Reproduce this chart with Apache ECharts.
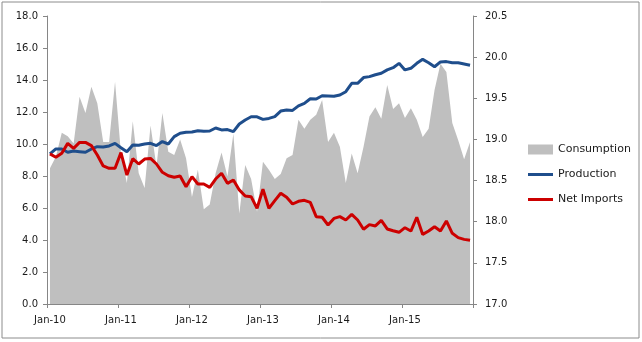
<!DOCTYPE html>
<html>
<head>
<meta charset="utf-8">
<script src="https://cdn.jsdelivr.net/npm/echarts@6/dist/echarts.min.js"></script>
<style>
html,body{margin:0;padding:0;background:#fff;}
#c{width:642px;height:342px;}
</style>
</head>
<body>
<div id="c"></div>
<script>
// Monthly categories Jan-2010 .. Dec-2015
const monthNames = ['Jan','Feb','Mar','Apr','May','Jun','Jul','Aug','Sep','Oct','Nov','Dec'];
const years = ['10','11','12','13','14','15'];
const categories = [];
years.forEach(y => monthNames.forEach(m => categories.push(m + '-' + y)));

// Consumption (right axis)
const consumption = [
  18.65,18.79,19.08,19.04,18.95,19.52,19.32,19.64,19.44,18.97,18.97,19.70,
  18.83,18.47,19.22,18.59,18.41,19.17,18.67,19.32,18.85,18.81,19.00,18.77,
  18.30,18.63,18.15,18.21,18.59,18.84,18.55,19.07,18.10,18.69,18.52,18.12,
  18.73,18.63,18.52,18.58,18.77,18.81,19.24,19.13,19.24,19.30,19.48,18.97,
  19.08,18.91,18.47,18.83,18.59,18.91,19.28,19.39,19.25,19.66,19.37,19.44,
  19.26,19.38,19.24,19.03,19.13,19.60,19.92,19.82,19.20,18.99,18.76,18.97
];
// Production (left axis)
const production = [
  9.38,9.69,9.69,9.48,9.56,9.52,9.48,9.69,9.83,9.81,9.88,10.04,
  9.77,9.52,9.94,9.92,10.00,10.04,9.90,10.15,10.00,10.46,10.67,10.73,
  10.75,10.83,10.79,10.81,11.00,10.88,10.90,10.77,11.25,11.50,11.70,11.70,
  11.54,11.60,11.71,12.06,12.13,12.10,12.38,12.54,12.83,12.81,13.02,13.00,
  12.98,13.06,13.27,13.79,13.79,14.15,14.21,14.33,14.42,14.63,14.77,15.04,
  14.63,14.73,15.04,15.29,15.08,14.83,15.13,15.15,15.08,15.08,15.00,14.92
];
// Net Imports (left axis)
const netImports = [
  9.38,9.17,9.42,10.04,9.73,10.10,10.10,9.90,9.31,8.63,8.48,8.48,
  9.46,8.06,9.08,8.75,9.06,9.10,8.75,8.23,8.02,7.92,8.00,7.33,
  7.96,7.50,7.50,7.29,7.81,8.17,7.54,7.75,7.13,6.75,6.71,5.98,
  7.17,5.98,6.46,6.92,6.67,6.25,6.42,6.48,6.35,5.46,5.42,4.94,
  5.35,5.46,5.25,5.60,5.25,4.67,4.96,4.88,5.23,4.69,4.58,4.48,
  4.77,4.56,5.42,4.35,4.56,4.83,4.56,5.19,4.42,4.15,4.04,3.98
];

const FONT = 'DejaVu Sans';
const axisColor = '#868686';
const lineIcon = 'path://M0,0 H25 V3 H0 Z';
const chart = echarts.init(document.getElementById('c'), null, {renderer:'canvas'});
chart.setOption({
  animation: false,
  backgroundColor: '#ffffff',
  graphic: [{
    type: 'rect',
    shape: {x: 2, y: 2, width: 637, height: 336},
    style: {fill: 'none', stroke: '#8c8c8c', lineWidth: 1},
    silent: true
  }],
  grid: {left: 47, right: 169, top: 16, bottom: 38},
  legend: {
    orient: 'vertical',
    left: 523,
    top: 139,
    itemWidth: 25,
    itemHeight: 10,
    itemGap: 14,
    textStyle: {fontFamily: FONT, fontSize: 11, color: '#1a1a1a'},
    data: [
      {name: 'Consumption', icon: 'rect'},
      {name: 'Production', icon: lineIcon},
      {name: 'Net Imports', icon: lineIcon}
    ]
  },
  xAxis: {
    type: 'category',
    data: categories,
    boundaryGap: true,
    axisLine: {lineStyle: {color: axisColor, width: 1}},
    axisTick: {show: true, interval: 11, length: 4, lineStyle: {color: axisColor}},
    axisLabel: {interval: 11, margin: 11, fontFamily: FONT, fontSize: 10, color: '#1a1a1a'},
    splitLine: {show: false}
  },
  yAxis: [{
    type: 'value',
    min: 0, max: 18, interval: 2,
    axisLine: {show: true, lineStyle: {color: axisColor}},
    axisTick: {show: true, length: 4, lineStyle: {color: axisColor}},
    axisLabel: {margin: 9, fontFamily: FONT, fontSize: 10, color: '#1a1a1a', formatter: v => v.toFixed(1)},
    splitLine: {show: false}
  }, {
    type: 'value',
    min: 17, max: 20.5, interval: 0.5,
    position: 'right',
    axisLine: {show: true, lineStyle: {color: axisColor}},
    axisTick: {show: true, length: 4, lineStyle: {color: axisColor}},
    axisLabel: {margin: 12, fontFamily: FONT, fontSize: 10, color: '#1a1a1a', formatter: v => v.toFixed(1)},
    splitLine: {show: false}
  }],
  series: [{
    name: 'Consumption',
    type: 'line',
    yAxisIndex: 1,
    data: consumption,
    symbol: 'none',
    lineStyle: {width: 0, color: '#bfbfbf'},
    itemStyle: {color: '#bfbfbf'},
    areaStyle: {color: '#bfbfbf', opacity: 1, origin: 'start'},
    z: 1
  }, {
    name: 'Production',
    type: 'line',
    yAxisIndex: 0,
    data: production,
    symbol: 'none',
    lineStyle: {width: 3, color: '#1f4e8c'},
    itemStyle: {color: '#1f4e8c'},
    z: 3
  }, {
    name: 'Net Imports',
    type: 'line',
    yAxisIndex: 0,
    data: netImports,
    symbol: 'none',
    lineStyle: {width: 3, color: '#cc0000'},
    itemStyle: {color: '#cc0000'},
    z: 4
  }]
});
</script>
</body>
</html>
